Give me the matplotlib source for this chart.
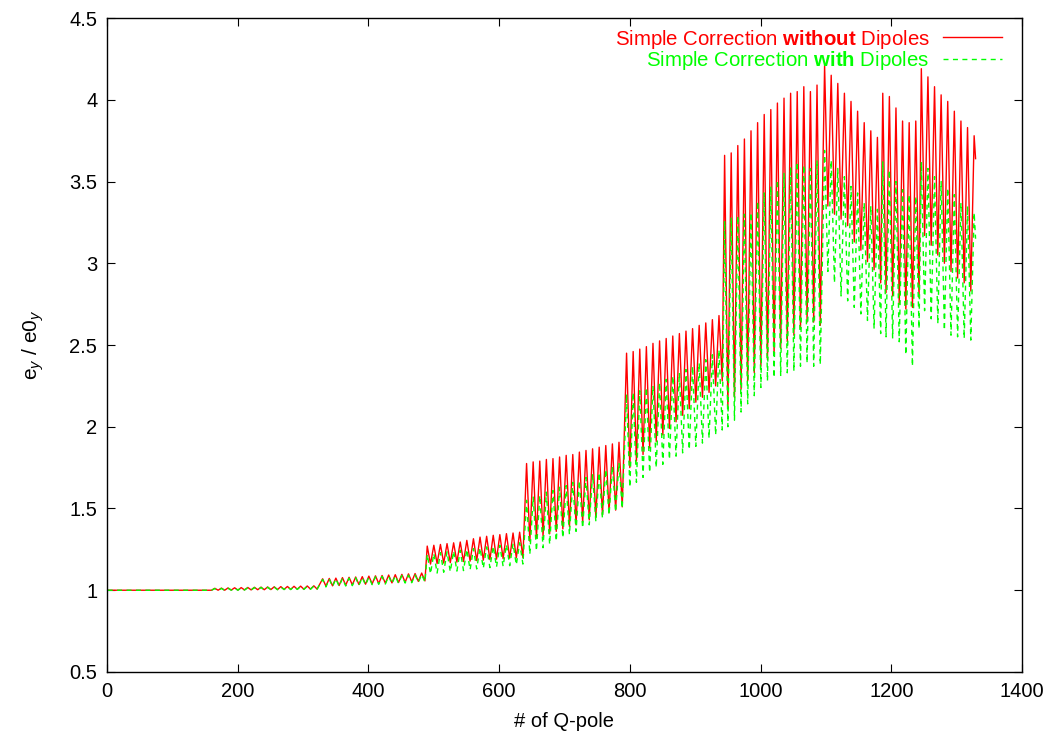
import numpy as np
import matplotlib.pyplot as plt
from matplotlib.ticker import FuncFormatter

plt.rcParams['font.family'] = ['Liberation Sans', 'DejaVu Sans']
plt.rcParams['mathtext.fontset'] = 'custom'
plt.rcParams['mathtext.rm'] = 'Liberation Sans'
plt.rcParams['mathtext.it'] = 'Liberation Sans:italic'
plt.rcParams['mathtext.bf'] = 'Liberation Sans:bold'

# flat start, then blocks of oscillation (one peak + one trough per cell)
START_Q = 1
FLAT_END_Q = 160
BLOCK_START = [165, 330, 490, 642, 795, 945, 1098, 1187, 1246]
PERIOD = 10.1
TROUGH_OFFSET = 5
END_Q = 1329

RED_PEAKS = [
    [1.012, 1.013, 1.014, 1.015, 1.016, 1.017, 1.018, 1.019, 1.020, 1.021, 1.022, 1.023, 1.024, 1.025, 1.026, 1.027],
    [1.070, 1.072, 1.074, 1.077, 1.079, 1.081, 1.083, 1.086, 1.088, 1.090, 1.093, 1.095, 1.097, 1.100, 1.102, 1.105],
    [1.270, 1.275, 1.280, 1.285, 1.290, 1.295, 1.305, 1.315, 1.325, 1.330, 1.336, 1.340, 1.346, 1.350, 1.355],
    [1.775, 1.785, 1.790, 1.800, 1.805, 1.815, 1.825, 1.830, 1.845, 1.855, 1.865, 1.875, 1.885, 1.895, 1.905],
    [2.45, 2.46, 2.475, 2.49, 2.51, 2.525, 2.54, 2.555, 2.57, 2.585, 2.60, 2.62, 2.635, 2.655, 2.68],
    [3.66, 3.675, 3.72, 3.76, 3.81, 3.86, 3.91, 3.94, 3.98, 4.01, 4.04, 4.05, 4.08, 4.05, 4.09],
    [4.21, 4.15, 4.10, 4.04, 3.99, 3.93, 3.86, 3.81, 3.77],
    [4.04, 4.02, 3.95, 3.87, 3.86, 3.87],
    [4.19, 4.14, 4.08, 4.03, 3.99, 3.93, 3.87, 3.83, 3.78],
]
RED_TROUGHS = [
    [1.000, 1.000, 1.001, 1.001, 1.002, 1.002, 1.003, 1.003, 1.004, 1.004, 1.005, 1.005, 1.006, 1.006, 1.007, 1.007],
    [1.025, 1.027, 1.029, 1.031, 1.033, 1.035, 1.037, 1.039, 1.041, 1.043, 1.045, 1.047, 1.049, 1.052, 1.054, 1.057],
    [1.160, 1.163, 1.166, 1.169, 1.172, 1.175, 1.178, 1.181, 1.184, 1.187, 1.190, 1.193, 1.196, 1.198, 1.200],
    [1.30, 1.32, 1.33, 1.345, 1.36, 1.375, 1.39, 1.40, 1.415, 1.43, 1.445, 1.46, 1.475, 1.49, 1.51],
    [1.75, 1.79, 1.83, 1.87, 1.91, 1.95, 1.99, 2.03, 2.07, 2.11, 2.15, 2.18, 2.21, 2.25, 2.28],
    [2.12, 2.18, 2.23, 2.28, 2.33, 2.37, 2.41, 2.45, 2.48, 2.52, 2.56, 2.60, 2.64, 2.64, 2.62],
    [3.35, 3.30, 3.27, 3.23, 3.13, 3.08, 3.01, 2.96, 2.88],
    [2.82, 2.80, 2.75, 2.72, 2.73, 2.79],
    [3.17, 3.11, 3.05, 3.00, 2.95, 2.91, 2.88, 2.83, 3.64],
]

GREEN_PEAKS = [
    [1.010, 1.011, 1.012, 1.013, 1.014, 1.015, 1.016, 1.017, 1.018, 1.019, 1.020, 1.021, 1.022, 1.023, 1.024, 1.025],
    [1.066, 1.068, 1.070, 1.072, 1.074, 1.076, 1.078, 1.080, 1.082, 1.084, 1.086, 1.088, 1.090, 1.092, 1.094, 1.096],
    [1.22, 1.225, 1.23, 1.235, 1.24, 1.245, 1.25, 1.255, 1.26, 1.265, 1.27, 1.275, 1.28, 1.285, 1.29],
    [1.55, 1.57, 1.58, 1.60, 1.61, 1.63, 1.64, 1.66, 1.67, 1.69, 1.71, 1.72, 1.74, 1.76, 1.78],
    [2.20, 2.21, 2.22, 2.24, 2.25, 2.27, 2.29, 2.31, 2.33, 2.35, 2.37, 2.39, 2.41, 2.44, 2.47],
    [3.26, 3.28, 3.29, 3.30, 3.31, 3.38, 3.43, 3.47, 3.51, 3.55, 3.59, 3.62, 3.60, 3.58, 3.63],
    [3.69, 3.63, 3.58, 3.53, 3.47, 3.43, 3.37, 3.35, 3.33],
    [3.62, 3.57, 3.50, 3.45, 3.42, 3.41],
    [3.62, 3.58, 3.53, 3.50, 3.46, 3.42, 3.37, 3.35, 3.31],
]
GREEN_TROUGHS = [
    [0.999, 0.999, 1.000, 1.000, 1.001, 1.001, 1.002, 1.002, 1.003, 1.003, 1.004, 1.004, 1.005, 1.005, 1.006, 1.006],
    [1.020, 1.022, 1.024, 1.026, 1.028, 1.030, 1.032, 1.034, 1.036, 1.038, 1.040, 1.042, 1.044, 1.046, 1.048, 1.050],
    [1.10, 1.105, 1.11, 1.113, 1.117, 1.12, 1.125, 1.13, 1.134, 1.138, 1.142, 1.146, 1.15, 1.155, 1.16],
    [1.22, 1.24, 1.26, 1.28, 1.30, 1.32, 1.34, 1.36, 1.38, 1.40, 1.42, 1.44, 1.46, 1.48, 1.50],
    [1.63, 1.66, 1.69, 1.72, 1.75, 1.77, 1.80, 1.82, 1.84, 1.86, 1.88, 1.90, 1.93, 1.95, 1.98],
    [2.00, 2.04, 2.09, 2.14, 2.19, 2.24, 2.28, 2.30, 2.31, 2.33, 2.34, 2.37, 2.39, 2.37, 2.38],
    [2.95, 2.88, 2.80, 2.77, 2.73, 2.69, 2.65, 2.60, 2.57],
    [2.55, 2.54, 2.52, 2.44, 2.37, 2.60],
    [2.71, 2.66, 2.63, 2.59, 2.56, 2.55, 2.54, 2.53, 3.15],
]

LABEL_RED = r'Simple Correction $\mathbf{without}$ Dipoles'
LABEL_GREEN = r'Simple Correction $\mathbf{with}$ Dipoles'


def build(peaks, troughs):
    xs = [START_Q, FLAT_END_Q]
    ys = [1.0, 1.0]
    for q0, pk, tr in zip(BLOCK_START, peaks, troughs):
        for k, (p, t) in enumerate(zip(pk, tr)):
            xs += [q0 + k * PERIOD, q0 + k * PERIOD + TROUGH_OFFSET]
            ys += [p, t]
    xs[-1] = END_Q
    return xs, ys


fig = plt.figure(figsize=(10.55, 7.36), dpi=100)
ax = fig.add_axes([0.1014, 0.087, 0.8673, 0.8885])

xr, yr = build(RED_PEAKS, RED_TROUGHS)
xg, yg = build(GREEN_PEAKS, GREEN_TROUGHS)
ax.plot(xr, yr, color='#ff0000', lw=1.0, label=LABEL_RED)
ax.plot(xg, yg, color='#00ff00', lw=1.0, dashes=(3.6, 3.2), label=LABEL_GREEN)

ax.set_xlim(0, 1400)
ax.set_ylim(0.5, 4.5)
ax.set_xticks(np.arange(0, 1401, 200))
ax.set_yticks(np.arange(0.5, 4.51, 0.5))
ax.yaxis.set_major_formatter(FuncFormatter(lambda v, p: '%g' % v))
ax.tick_params(direction='in', top=True, right=True, length=6, width=0.8,
               labelsize=14.5, pad=7)
for s in ax.spines.values():
    s.set_linewidth(1.0)

ax.set_xlabel('# of Q-pole', fontsize=14.5, labelpad=8)
ax.set_ylabel(r'e$_y$ / e0$_y$', fontsize=15, labelpad=17)

ax.legend(loc='upper right', bbox_to_anchor=(0.978, 0.9855), frameon=False,
          markerfirst=False, handlelength=2.9, handletextpad=0.64,
          labelspacing=-0.08, fontsize=14.7, labelcolor='linecolor',
          borderaxespad=0, borderpad=0)

fig.savefig('out.png', dpi=100)
